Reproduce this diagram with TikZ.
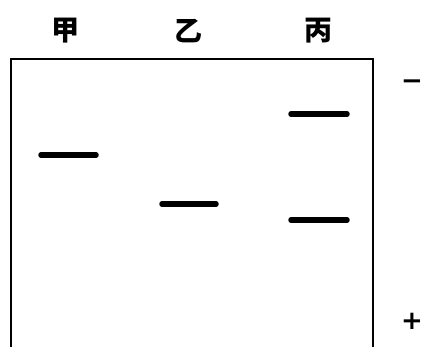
\documentclass[tikz,border=0pt]{standalone}
\usepackage{fontspec}
\newfontfamily\cjk{Noto Sans CJK SC}
\newfontfamily\signfont{DejaVu Sans}
\tikzset{
  lane/.style={font=\cjk\bfseries\fontsize{28}{28}\selectfont, inner sep=0pt},
  pole/.style={font=\signfont\bfseries\fontsize{26}{26}\selectfont, inner sep=0pt},
  band/.style={line width=5.5pt, line cap=round},
  gel/.style={line width=2.6pt}
}

\begin{document}
\begin{tikzpicture}[x=1pt, y=-1pt]
    \useasboundingbox (0,0) rectangle (424,347);

    \node[lane] (jia) at (65,31) {甲};
    \node[lane] (yi) at (188,31) {乙};
    \node[lane] (bing) at (318,31) {丙};

    \node[pole] (neg) at (412,85) {−};
    \node[pole] (pos) at (412,321) {+};

    % gel outline, open at the bottom
    \draw[gel] (11,347) -- (11,59) -- (373,59) -- (373,347);

    % bands
    \draw[band] (41,155) -- (96,155);
    \draw[band] (162,204) -- (216,204);
    \draw[band] (291,114) -- (347,114);
    \draw[band] (291,220) -- (347,220);
\end{tikzpicture}
\end{document}
